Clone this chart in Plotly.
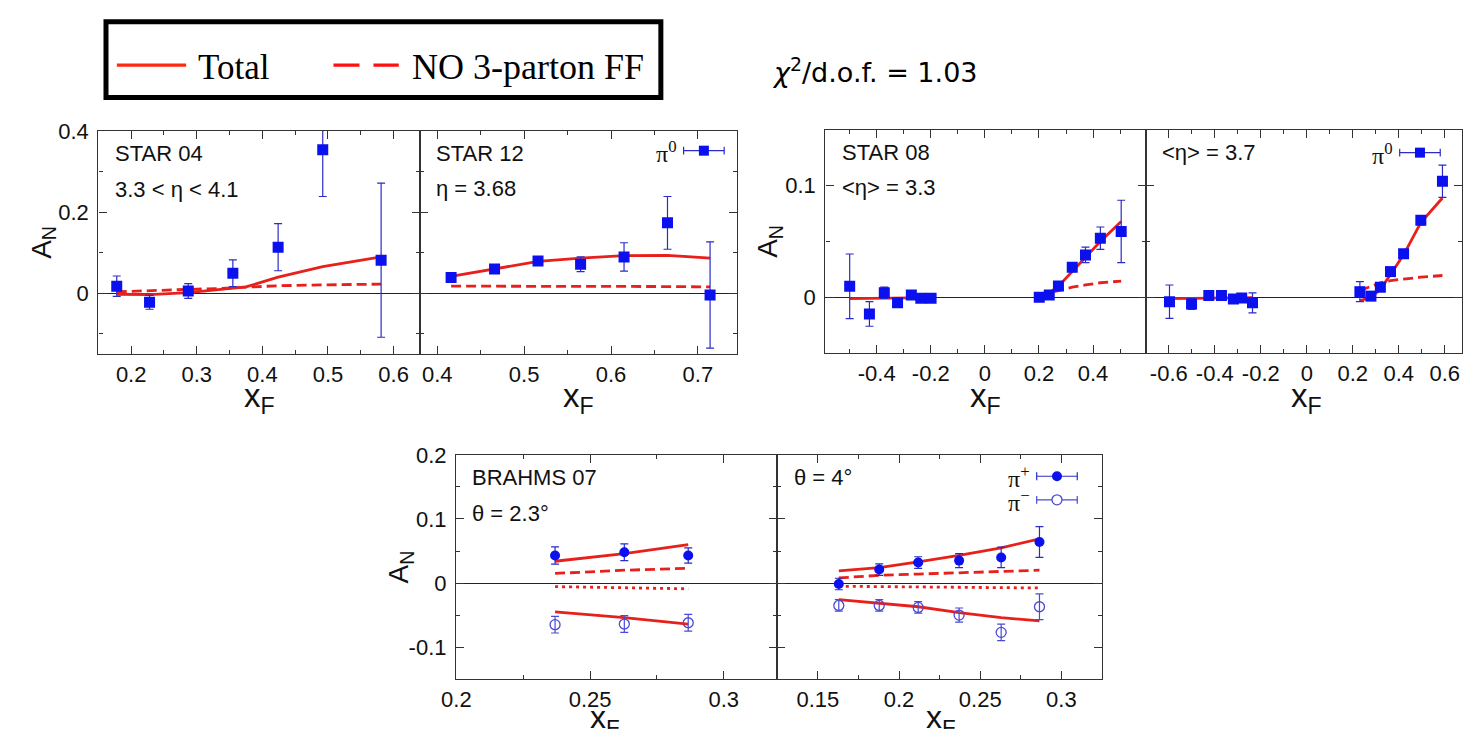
import plotly.graph_objects as go

W, H = 1463, 729

# ---------------- data ----------------
# STAR 04, 3.3 < eta < 4.1
star04_xf = [0.178, 0.228, 0.287, 0.355, 0.424, 0.492, 0.581]
star04_an = [0.018, -0.022, 0.006, 0.050, 0.114, 0.354, 0.082]
star04_err = [0.025, 0.017, 0.018, 0.033, 0.058, 0.115, 0.190]
star04_curve_xf = [0.178, 0.228, 0.287, 0.330, 0.375, 0.424, 0.492, 0.581]
star04_total = [-0.002, -0.003, 0.002, 0.008, 0.016, 0.040, 0.066, 0.090]
star04_no3p = [0.004, 0.006, 0.010, 0.012, 0.015, 0.019, 0.021, 0.023]

# STAR 12, eta = 3.68
star12_xf = [0.416, 0.466, 0.516, 0.565, 0.615, 0.665, 0.714]
star12_an = [0.039, 0.060, 0.080, 0.072, 0.090, 0.174, -0.004]
star12_err = [0.005, 0.005, 0.008, 0.018, 0.035, 0.065, 0.131]
star12_total = [0.042, 0.060, 0.079, 0.087, 0.093, 0.094, 0.087]
star12_no3p = [0.018, 0.018, 0.018, 0.018, 0.018, 0.017, 0.016]

# STAR 08, <eta> = 3.3 (backward and forward xF)
star08a_xf_neg = [-0.500, -0.427, -0.372, -0.323, -0.272, -0.237, -0.199]
star08a_an_neg = [0.0098, -0.015, 0.004, -0.005, 0.002, -0.001, -0.001]
star08a_err_neg = [0.029, 0.011, 0.005, 0.002, 0.002, 0.0015, 0.0015]
star08a_total_neg = [-0.0012, -0.0010, -0.0008, -0.0006, -0.0005, -0.0004, -0.0003]
star08a_xf_pos = [0.201, 0.238, 0.272, 0.323, 0.372, 0.427, 0.504]
star08a_an_pos = [0.000, 0.002, 0.010, 0.027, 0.038, 0.053, 0.059]
star08a_err_pos = [0.0015, 0.0015, 0.002, 0.004, 0.007, 0.010, 0.028]
star08a_total_pos = [0.002, 0.004, 0.010, 0.023, 0.036, 0.050, 0.068]
star08a_no3p_pos = [0.003, 0.004, 0.006, 0.009, 0.011, 0.013, 0.0145]

# STAR 08, <eta> = 3.7
star08b_xf_neg = [-0.597, -0.501, -0.426, -0.371, -0.319, -0.283, -0.236]
star08b_an_neg = [-0.004, -0.006, 0.0015, 0.0015, -0.0015, -0.0006, -0.005]
star08b_err_neg = [0.015, 0.005, 0.002, 0.002, 0.002, 0.002, 0.009]
star08b_total_neg = [-0.0012, -0.0010, -0.0008, -0.0007, -0.0006, -0.0005, -0.0004]
star08b_xf_pos = [0.231, 0.279, 0.320, 0.364, 0.421, 0.496, 0.590]
star08b_an_pos = [0.005, 0.001, 0.009, 0.023, 0.039, 0.069, 0.104]
star08b_err_pos = [0.009, 0.002, 0.002, 0.002, 0.002, 0.004, 0.0145]
star08b_total_pos = [-0.003, 0.000, 0.007, 0.020, 0.038, 0.067, 0.089]
star08b_no3p_pos = [0.006, 0.010, 0.013, 0.015, 0.0165, 0.018, 0.0195]

# BRAHMS 07, theta = 2.3 deg
brahms23_xf = [0.2369, 0.2628, 0.2867]
brahms23_pip = [0.043, 0.048, 0.043]
brahms23_pip_err = [0.0135, 0.013, 0.012]
brahms23_pim = [-0.065, -0.064, -0.062]
brahms23_pim_err = [0.013, 0.013, 0.013]
brahms23_total_pip = [0.034, 0.046, 0.060]
brahms23_no3p_pip = [0.015, 0.020, 0.023]
brahms23_no3p_pim = [-0.0056, -0.0072, -0.009]
brahms23_total_pim = [-0.045, -0.054, -0.064]

# BRAHMS 07, theta = 4 deg
brahms4_xf = [0.1629, 0.1878, 0.2118, 0.2370, 0.2629, 0.2865]
brahms4_pip = [-0.0015, 0.021, 0.032, 0.035, 0.040, 0.064]
brahms4_pip_err = [0.009, 0.009, 0.009, 0.011, 0.016, 0.024]
brahms4_pim = [-0.035, -0.035, -0.038, -0.050, -0.077, -0.037]
brahms4_pim_err = [0.009, 0.009, 0.009, 0.011, 0.013, 0.020]
brahms4_total_pip = [0.019, 0.024, 0.033, 0.043, 0.055, 0.069]
brahms4_no3p_pip = [0.008, 0.012, 0.014, 0.016, 0.019, 0.020]
brahms4_no3p_pim = [-0.005, -0.0055, -0.006, -0.0065, -0.007, -0.0077]
brahms4_total_pim = [-0.026, -0.031, -0.037, -0.046, -0.054, -0.059]

# tick labels
star08a_xticks = [-0.4, -0.2, 0, 0.2, 0.4]
star08a_xticktext = ["-0.4", "-0.2", "0", "0.2", "0.4"]
star08b_xticks = [-0.6, -0.4, -0.2, 0, 0.2, 0.4, 0.6]
star08b_xticktext = ["-0.6", "-0.4", "-0.2", "0", "0.2", "0.4", "0.6"]
brahms_yticks = [-0.1, 0, 0.1, 0.2]
brahms_yticktext = ["-0.1", "0", "0.1", "0.2"]

# ---------------- styling ----------------
RED = "#e8201c"
BLUE = "#0a10ee"
ERRBLUE = "#2b2bc8"
OPENBLUE = "#4a4ad6"
AXCOL = "#333333"
SANS = "Liberation Sans, Arial, sans-serif"
SERIF = "Liberation Serif, Times New Roman, serif"

fig = go.Figure()


def px(x):
    return x / W


def py(y):
    return 1 - y / H


def axis_common():
    return dict(
        showline=True, linecolor=AXCOL, linewidth=1.4, mirror="ticks",
        ticks="inside", ticklen=8, tickwidth=1.2, tickcolor=AXCOL,
        showgrid=False, tickfont=dict(family=SANS, size=22, color="#111"),
    )


# panel geometry in pixels: (left, right, top, bottom)
geom = {
    1: (84.3, 409.3, 121, 348),
    2: (409.3, 730, 121, 348),
    3: (819.3, 1143.3, 120, 346.7),
    4: (1143.3, 1463, 120, 346.7),
    5: (446, 770.7, 450, 678.3),
    6: (770.7, 1099, 450, 678.3),
}

xspec = {
    1: dict(range=[0.15, 0.64], tick0=0, dtick=0.1, minor=0.05),
    2: dict(range=[0.38, 0.745], tick0=0, dtick=0.1, minor=0.05),
    3: dict(range=[-0.59, 0.595], tickvals=star08a_xticks, ticktext=star08a_xticktext, minor=0.1),
    4: dict(range=[-0.7, 0.675], tickvals=star08b_xticks, ticktext=star08b_xticktext, minor=0.1),
    5: dict(range=[0.1999, 0.32], tick0=0, dtick=0.05, minor=0.025),
    6: dict(range=[0.125, 0.325], tick0=0, dtick=0.05, minor=0.025),
}
yspec = {
    1: dict(range=[-0.15, 0.4005], tick0=0, dtick=0.2, minor=0.1, labels=True),
    2: dict(range=[-0.15, 0.4005], tick0=0, dtick=0.2, minor=0.1, labels=False),
    3: dict(range=[-0.05, 0.15], tick0=0, dtick=0.1, minor=0.05, labels=True),
    4: dict(range=[-0.05, 0.15], tick0=0, dtick=0.1, minor=0.05, labels=False),
    5: dict(range=[-0.15, 0.2005], tickvals=brahms_yticks, ticktext=brahms_yticktext, minor=0.05, labels=True),
    6: dict(range=[-0.15, 0.2005], tickvals=brahms_yticks, ticktext=brahms_yticktext, minor=0.05, labels=False),
}

layout_axes = {}
for i in range(1, 7):
    l, r, t, b = geom[i]
    xs, ys = xspec[i], yspec[i]
    xa = axis_common()
    xa.update(domain=[px(l), min(px(r), 1.0)], range=xs["range"], anchor=f"y{i}" if i > 1 else "y",
              zeroline=False, ticklabelstandoff=0,
              minor=dict(dtick=xs["minor"], ticks="inside", ticklen=4, tickcolor=AXCOL, showgrid=False))
    if "tickvals" in xs:
        xa.update(tickmode="array", tickvals=xs["tickvals"], ticktext=xs["ticktext"])
    else:
        xa.update(tickmode="linear", tick0=xs["tick0"], dtick=xs["dtick"])
    ya = axis_common()
    ya.update(domain=[py(b), py(t)], range=ys["range"], anchor=f"x{i}" if i > 1 else "x",
              zeroline=True, zerolinecolor="#222", zerolinewidth=1,
              showticklabels=ys["labels"], ticklabelstandoff=4,
              minor=dict(dtick=ys["minor"], ticks="inside", ticklen=4, tickcolor=AXCOL, showgrid=False))
    if "tickvals" in ys:
        ya.update(tickmode="array", tickvals=ys["tickvals"], ticktext=ys["ticktext"])
    else:
        ya.update(tickmode="linear", tick0=ys["tick0"], dtick=ys["dtick"])
    key = "" if i == 1 else str(i)
    layout_axes[f"xaxis{key}"] = xa
    layout_axes[f"yaxis{key}"] = ya


def ax(i):
    return ("x", "y") if i == 1 else (f"x{i}", f"y{i}")


def curve(i, x, y, dash="solid"):
    xa, ya = ax(i)
    fig.add_trace(go.Scatter(x=x, y=y, mode="lines", xaxis=xa, yaxis=ya, showlegend=False,
                             line=dict(color=RED, width=2.8, dash=dash), hoverinfo="skip"))


def points(i, x, y, err, symbol="square", color=BLUE, size=11, open_=False):
    xa, ya = ax(i)
    marker = dict(symbol=symbol, size=size, color=color)
    if open_:
        marker.update(line=dict(color=color, width=1.3))
    fig.add_trace(go.Scatter(
        x=x, y=y, mode="markers", xaxis=xa, yaxis=ya, showlegend=False, marker=marker,
        error_y=dict(type="data", array=err, color=ERRBLUE if not open_ else OPENBLUE,
                     thickness=1.2, width=4)))


DASH = "10px,5px"
DOT = "3px,4px"

# STAR 04
curve(1, star04_curve_xf, star04_no3p, DASH)
curve(1, star04_curve_xf, star04_total)
points(1, star04_xf, star04_an, star04_err)
# STAR 12
curve(2, star12_xf, star12_no3p, DASH)
curve(2, star12_xf, star12_total)
points(2, star12_xf, star12_an, star12_err)
# STAR 08, <eta> = 3.3
curve(3, star08a_xf_neg, star08a_total_neg)
curve(3, star08a_xf_pos, star08a_no3p_pos, DASH)
curve(3, star08a_xf_pos, star08a_total_pos)
points(3, star08a_xf_neg, star08a_an_neg, star08a_err_neg)
points(3, star08a_xf_pos, star08a_an_pos, star08a_err_pos)
# STAR 08, <eta> = 3.7
curve(4, star08b_xf_neg, star08b_total_neg)
curve(4, star08b_xf_pos, star08b_no3p_pos, DASH)
curve(4, star08b_xf_pos, star08b_total_pos)
points(4, star08b_xf_neg, star08b_an_neg, star08b_err_neg)
points(4, star08b_xf_pos, star08b_an_pos, star08b_err_pos)
# BRAHMS 2.3 deg
curve(5, brahms23_xf, brahms23_total_pip)
curve(5, brahms23_xf, brahms23_no3p_pip, DASH)
curve(5, brahms23_xf, brahms23_no3p_pim, DOT)
curve(5, brahms23_xf, brahms23_total_pim)
points(5, brahms23_xf, brahms23_pip, brahms23_pip_err, symbol="circle", size=10)
points(5, brahms23_xf, brahms23_pim, brahms23_pim_err, symbol="circle-open", color=OPENBLUE, size=10, open_=True)
# BRAHMS 4 deg
curve(6, brahms4_xf, brahms4_total_pip)
curve(6, brahms4_xf, brahms4_no3p_pip, DASH)
curve(6, brahms4_xf, brahms4_no3p_pim, DOT)
curve(6, brahms4_xf, brahms4_total_pim)
points(6, brahms4_xf, brahms4_pip, brahms4_pip_err, symbol="circle", size=10)
points(6, brahms4_xf, brahms4_pim, brahms4_pim_err, symbol="circle-open", color=OPENBLUE, size=10, open_=True)

annotations = []
shapes = []


def text(x, y, s, size=22, family=SANS, xanchor="left", yanchor="middle", angle=0, color="#111"):
    annotations.append(dict(x=px(x), y=py(y), xref="paper", yref="paper", text=s, showarrow=False,
                            xanchor=xanchor, yanchor=yanchor, textangle=angle,
                            font=dict(family=family, size=size, color=color)))


# panel labels
text(99, 144, "STAR 04")
text(99, 180, "3.3 &lt; η &lt; 4.1")
text(424, 144, "STAR 12")
text(424, 179, "η = 3.68")
text(834, 143, "STAR 08")
text(834, 178, "&lt;η&gt; = 3.3")
text(1158, 143, "&lt;η&gt; = 3.7")
text(460, 473, "BRAHMS 07")
text(460, 510, "θ = 2.3°")
text(786, 473, "θ = 4°")

# axis titles
for cx, cy in [(28, 234), (763, 233), (390, 564)]:
    text(cx, cy, "A<sub>N</sub>", size=28, xanchor="center", angle=-90)
for cx, cy in [(247, 392), (570, 392), (981, 392), (1306, 392)]:
    text(cx, cy, "x<sub>F</sub>", size=33, xanchor="center")
for cx, cy in [(597, 719), (936, 719)]:
    text(cx, cy, "x<sub>F</sub>", size=32, xanchor="center")


# in-panel data keys
def key(xl, xr, y, s, marker):
    text(xl - 5, y + 1, s, size=24, family=SERIF, xanchor="right")
    col = OPENBLUE if marker == "open" else ERRBLUE
    shapes.append(dict(type="line", xref="paper", yref="paper", x0=px(xl), x1=px(xr), y0=py(y), y1=py(y),
                       line=dict(color=col, width=1.2)))
    for xe in (xl, xr):
        shapes.append(dict(type="line", xref="paper", yref="paper", x0=px(xe), x1=px(xe),
                           y0=py(y - 4), y1=py(y + 4), line=dict(color=col, width=1.2)))
    xc = (xl + xr) / 2
    common = dict(xref="paper", yref="paper", xsizemode="pixel", ysizemode="pixel",
                  xanchor=px(xc), yanchor=py(y), x0=-5, x1=5, y0=-5, y1=5)
    if marker == "square":
        shapes.append(dict(type="rect", fillcolor=BLUE, line=dict(width=0), **common))
    elif marker == "filled":
        shapes.append(dict(type="circle", fillcolor=BLUE, line=dict(width=0), **common))
    else:
        shapes.append(dict(type="circle", fillcolor="white", line=dict(color=OPENBLUE, width=1.3), **common))


key(676, 717, 141, "π<sup>0</sup>", "square")
key(1400, 1441, 143, "π<sup>0</sup>", "square")
key(1033, 1074, 472, "π<sup>+</sup>", "filled")
key(1033, 1074, 496, "π<sup>−</sup>", "open")

# model legend box
shapes.append(dict(type="rect", xref="paper", yref="paper", x0=px(92), x1=px(653), y0=py(87), y1=py(10),
                   line=dict(color="black", width=5), fillcolor="rgba(0,0,0,0)"))
shapes.append(dict(type="line", xref="paper", yref="paper", x0=px(103), x1=px(173), y0=py(54), y1=py(54),
                   line=dict(color="#ff2a10", width=3.3)))
shapes.append(dict(type="line", xref="paper", yref="paper", x0=px(322), x1=px(388), y0=py(54), y1=py(54),
                   line=dict(color="#ff1010", width=3.3, dash="26px,14px")))
text(183, 56, "Total", size=35, family=SERIF, color="black")
text(399, 56, "NO 3-parton FF", size=36, family=SERIF, color="black")
text(763, 59, "<i>χ</i><sup>2</sup>/d.o.f. = 1.03", size=27, family="DejaVu Sans, sans-serif", color="black")

fig.update_layout(
    width=W, height=H, margin=dict(l=0, r=0, t=0, b=0),
    paper_bgcolor="white", plot_bgcolor="white", showlegend=False,
    annotations=annotations, shapes=shapes, **layout_axes,
)

fig.write_html("out.html")
